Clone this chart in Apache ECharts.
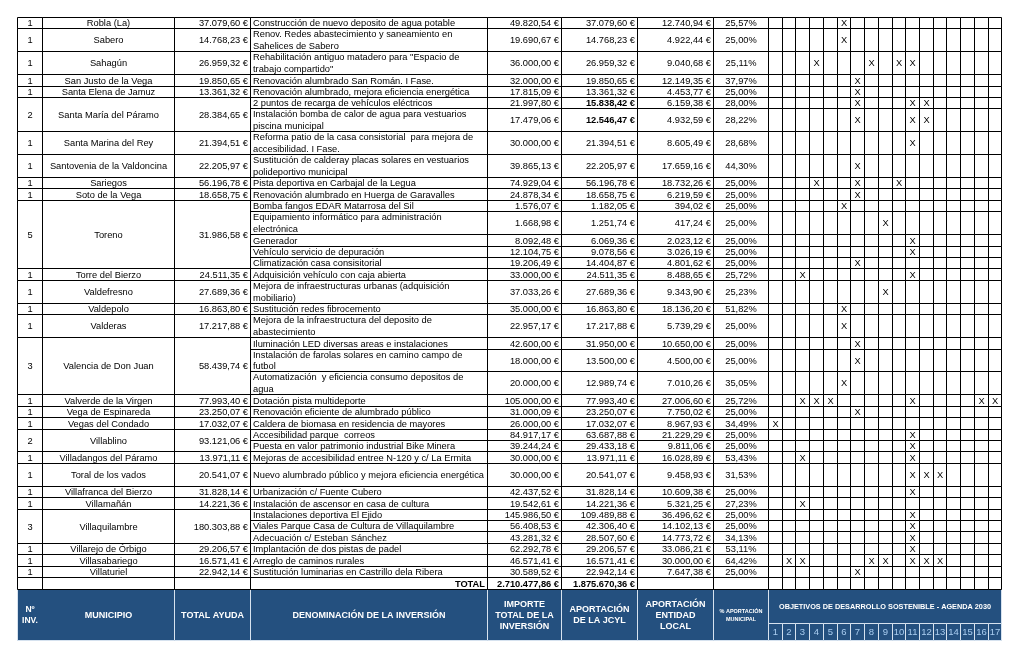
<!DOCTYPE html>
<html>
<head>
<meta charset="utf-8">
<script src="https://cdn.jsdelivr.net/npm/echarts@6/dist/echarts.min.js"></script>
<style>
  html, body { margin: 0; background: #fff; }
  #chart { width: 1020px; height: 655px; }
</style>
</head>
<body>
<div id="chart"></div>
<script>
// municipios
const muniNames = ['Robla (La)', 'Sabero', 'Sahagún', 'San Justo de la Vega', 'Santa Elena de Jamuz',
  'Santa María del Páramo', 'Santa Marina del Rey', 'Santovenia de la Valdoncina', 'Sariegos',
  'Soto de la Vega', 'Toreno', 'Torre del Bierzo', 'Valdefresno', 'Valdepolo', 'Valderas',
  'Valencia de Don Juan', 'Valverde de la Virgen', 'Vega de Espinareda', 'Vegas del Condado',
  'Villablino', 'Villadangos del Páramo', 'Toral de los vados', 'Villafranca del Bierzo',
  'Villamañán', 'Villaquilambre', 'Villarejo de Órbigo', 'Villasabariego', 'Villaturiel']
const muniAyuda = [37079.60, 14768.23, 26959.32, 19850.65, 13361.32, 28384.65, 21394.51, 22205.97,
  56196.78, 18658.75, 31986.58, 24511.35, 27689.36, 16863.80, 17217.88, 58439.74, 77993.40,
  23250.07, 17032.07, 93121.06, 13971.11, 20541.07, 31828.14, 14221.36, 180303.88, 29206.57,
  16571.41, 22942.14]
const muniInv = [1, 1, 1, 1, 1, 2, 1, 1, 1, 1, 5, 1, 1, 1, 1, 3, 1, 1, 1, 2, 1, 1, 1, 1, 3, 1, 1, 1]

// inversiones
const invNames = [
  'Construcción de nuevo deposito de agua potable',
  'Renov. Redes abastecimiento y saneamiento en\nSahelices de Sabero',
  'Rehabilitación antiguo matadero para "Espacio de\ntrabajo compartido"',
  'Renovación alumbrado San Román. I Fase.',
  'Renovación alumbrado, mejora eficiencia energética',
  '2 puntos de recarga de vehículos eléctricos',
  'Instalación bomba de calor de agua para vestuarios\npiscina municipal',
  'Reforma patio de la casa consistorial  para mejora de\naccesibilidad. I Fase.',
  'Sustitución de calderay placas solares en vestuarios\npolideportivo municipal',
  'Pista deportiva en Carbajal de la Legua',
  'Renovación alumbrado en Huerga de Garavalles',
  'Bomba fangos EDAR Matarrosa del Sil',
  'Equipamiento informático para administración\nelectrónica',
  'Generador',
  'Vehículo servicio de depuración',
  'Climatización casa consisitorial',
  'Adquisición vehículo con caja abierta',
  'Mejora de infraestructuras urbanas (adquisición\nmobiliario)',
  'Sustitución redes fibrocemento',
  'Mejora de la infraestructura del deposito de\nabastecimiento',
  'Iluminación LED diversas areas e instalaciones',
  'Instalación de farolas solares en camino campo de\nfutbol',
  'Automatización  y eficiencia consumo depositos de\nagua',
  'Dotación pista multideporte',
  'Renovación eficiente de alumbrado público',
  'Caldera de biomasa en residencia de mayores',
  'Accesibilidad parque  correos',
  'Puesta en valor patrimonio industrial Bike Minera',
  'Mejoras de accesibilidad entree N-120 y c/ La Ermita',
  'Nuevo alumbrado público y mejora eficiencia energética',
  'Urbanización c/ Fuente Cubero',
  'Instalación de ascensor en casa de cultura',
  'Instalaciones deportiva El Ejido',
  'Viales Parque Casa de Cultura de Villaquilambre',
  'Adecuación c/ Esteban Sánchez',
  'Implantación de dos pistas de padel',
  'Arreglo de caminos rurales',
  'Sustitución luminarias en Castrillo dela Ribera'
]
const invImporte = [49820.54, 19690.67, 36000.00, 32000.00, 17815.09, 21997.80, 17479.06, 30000.00,
  39865.13, 74929.04, 24878.34, 1576.07, 1668.98, 8092.48, 12104.75, 19206.49, 33000.00, 37033.26,
  35000.00, 22957.17, 42600.00, 18000.00, 20000.00, 105000.00, 31000.09, 26000.00, 84917.17,
  39244.24, 30000.00, 30000.00, 42437.52, 19542.61, 145986.50, 56408.53, 43281.32, 62292.78,
  46571.41, 30589.52]
const invJcyl = [37079.60, 14768.23, 26959.32, 19850.65, 13361.32, 15838.42, 12546.47, 21394.51,
  22205.97, 56196.78, 18658.75, 1182.05, 1251.74, 6069.36, 9078.56, 14404.87, 24511.35, 27689.36,
  16863.80, 17217.88, 31950.00, 13500.00, 12989.74, 77993.40, 23250.07, 17032.07, 63687.88,
  29433.18, 13971.11, 20541.07, 31828.14, 14221.36, 109489.88, 42306.40, 28507.60, 29206.57,
  16571.41, 22942.14]
const invLocal = [12740.94, 4922.44, 9040.68, 12149.35, 4453.77, 6159.38, 4932.59, 8605.49,
  17659.16, 18732.26, 6219.59, 394.02, 417.24, 2023.12, 3026.19, 4801.62, 8488.65, 9343.90,
  18136.20, 5739.29, 10650.00, 4500.00, 7010.26, 27006.60, 7750.02, 8967.93, 21229.29,
  9811.06, 16028.89, 9458.93, 10609.38, 5321.25, 36496.62, 14102.13, 14773.72, 33086.21,
  30000.00, 7647.38]
const invPct = [25.57, 25.00, 25.11, 37.97, 25.00, 28.00, 28.22, 28.68, 44.30, 25.00, 25.00,
  25.00, 25.00, 25.00, 25.00, 25.00, 25.72, 25.23, 51.82, 25.00, 25.00, 25.00, 35.05, 25.72,
  25.00, 34.49, 25.00, 25.00, 53.43, 31.53, 25.00, 27.23, 25.00, 25.00, 34.13, 53.11, 64.42, 25.00]
const invOds = [[6], [6], [4, 8, 10, 11], [7], [7], [7, 11, 12], [7, 11, 12], [11], [7], [4, 7, 10],
  [7], [6], [9], [11], [11], [7], [3, 11], [9], [6], [6], [7], [7], [6], [3, 4, 5, 11, 16, 17],
  [7], [1], [11], [11], [3, 11], [11, 12, 13], [11], [3], [11], [11], [11], [11],
  [2, 3, 8, 9, 11, 12, 13], [7]]
const totalImporte = 2710477.86
const totalJcyl = 1875670.36

// cabecera
const headLabels = ['Nº\nINV.', 'MUNICIPIO', 'TOTAL AYUDA', 'DENOMINACIÓN DE LA INVERSIÓN',
  'IMPORTE\nTOTAL DE LA\nINVERSIÓN', 'APORTACIÓN\nDE LA JCYL', 'APORTACIÓN\nENTIDAD\nLOCAL',
  '% APORTACIÓN\nMUNICIPAL']
const odsTitle = 'OBJETIVOS DE DESARROLLO SOSTENIBLE - AGENDA 2030'
const odsLabels = ['1', '2', '3', '4', '5', '6', '7', '8', '9', '10', '11', '12', '13', '14', '15', '16', '17']

// layout (pixel columns, row heights in line units)
const colX = [17, 42, 174, 250, 487, 561, 637, 713, 768]
const odsW = 13.73
const rowUnits = [1, 2, 2, 1, 1, 1, 2, 2, 2, 1, 1, 1, 2, 1, 1, 1, 1, 2, 1, 2, 1, 2, 2, 1, 1, 1, 1, 1,
  1, 2, 1, 1, 1, 1, 1, 1, 1, 1]
const boldJcyl = [5, 6]
const HEAD = '#24507f'
const HEAD_LINE = '#d6e2ef'
const FONT = '"Liberation Sans", Arial, sans-serif'
const BODY_FS = 9.3

function eur(v) {
  const [i, d] = v.toFixed(2).split('.')
  return i.replace(/\B(?=(\d{3})+(?!\d))/g, '.') + ',' + d + ' €'
}
function pct(v) {
  return v.toFixed(2).replace('.', ',') + '%'
}
function odsX(s) {
  return colX[8] + s * odsW
}

const cells = []
function cell(x0, x1, y0, y1, text, o) {
  cells.push(Object.assign({ x0, x1, y0, y1, text, align: 'center', fs: BODY_FS, color: '#000', stroke: '#000', fill: null }, o))
}

// header (below the table)
const H0 = 50, H1 = 53, H2 = 54.5
const hs = { fill: HEAD, stroke: HEAD_LINE, color: '#fff', bold: true, fs: 9, lh: 11 }
cell(colX[0], colX[2], H0, H2, '', hs)
cell(colX[0], colX[1], H0, H2, headLabels[0], Object.assign({}, hs, { fill: null, stroke: null, fs: 8.5 }))
cell(colX[1], colX[2], H0, H2, headLabels[1], Object.assign({}, hs, { fill: null, stroke: null }))
for (let c = 2; c < 8; c++) {
  cell(colX[c], colX[c + 1], H0, H2, headLabels[c], c === 7 ? Object.assign({}, hs, { fs: 5.5, lh: 8 }) : hs)
}
cell(colX[8], odsX(17), H0, H1, odsTitle, Object.assign({}, hs, { fs: 7.3 }))
odsLabels.forEach((t, s) => {
  cell(odsX(s), odsX(s + 1), H1, H2, t, Object.assign({}, hs, { bold: false, color: '#a9cdf0', fs: 9.5 }))
})

// body
let y = 0, k = 0
muniNames.forEach((name, m) => {
  const n = muniInv[m]
  let h = 0
  for (let j = 0; j < n; j++) h += rowUnits[k + j]
  cell(colX[0], colX[1], y, y + h, String(n))
  cell(colX[1], colX[2], y, y + h, name)
  cell(colX[2], colX[3], y, y + h, eur(muniAyuda[m]), { align: 'right' })
  let yy = y
  for (let j = 0; j < n; j++, k++) {
    const r = rowUnits[k]
    cell(colX[3], colX[4], yy, yy + r, invNames[k], { align: 'left' })
    cell(colX[4], colX[5], yy, yy + r, eur(invImporte[k]), { align: 'right' })
    cell(colX[5], colX[6], yy, yy + r, eur(invJcyl[k]), { align: 'right', bold: boldJcyl.includes(k) })
    cell(colX[6], colX[7], yy, yy + r, eur(invLocal[k]), { align: 'right' })
    cell(colX[7], colX[8], yy, yy + r, pct(invPct[k]))
    for (let s = 0; s < 17; s++) {
      cell(odsX(s), odsX(s + 1), yy, yy + r, invOds[k].includes(s + 1) ? 'X' : '')
    }
    yy += r
  }
  y += h
})

// total row
cell(colX[0], colX[1], y, y + 1, '')
cell(colX[1], colX[2], y, y + 1, '')
cell(colX[2], colX[3], y, y + 1, '')
cell(colX[3], colX[4], y, y + 1, 'TOTAL', { align: 'right', bold: true })
cell(colX[4], colX[5], y, y + 1, eur(totalImporte), { align: 'right', bold: true })
cell(colX[5], colX[6], y, y + 1, eur(totalJcyl), { align: 'right', bold: true })
cell(colX[6], colX[7], y, y + 1, '')
cell(colX[7], colX[8], y, y + 1, '')
for (let s = 0; s < 17; s++) cell(odsX(s), odsX(s + 1), y, y + 1, '')

const chart = echarts.init(document.getElementById('chart'))

function renderCell(params, api) {
  const c = cells[params.dataIndex]
  const a = api.coord([c.x0, c.y0])
  const b = api.coord([c.x1, c.y1])
  const unit = api.size([0, 1])[1]
  const x0 = Math.round(a[0]) + 0.5, x1 = Math.round(b[0]) + 0.5
  const y0 = Math.round(a[1]) + 0.5, y1 = Math.round(b[1]) + 0.5
  const children = []
  if (c.fill || c.stroke) {
    children.push({
      type: 'rect',
      shape: { x: x0, y: y0, width: x1 - x0, height: y1 - y0 },
      style: { fill: c.fill || 'transparent', stroke: c.stroke || 'transparent', lineWidth: 1 }
    })
  }
  if (c.text) {
    let tx = (x0 + x1) / 2
    if (c.align === 'left') tx = x0 + 2.5
    if (c.align === 'right') tx = x1 - 2.5
    children.push({
      type: 'text',
      style: {
        text: c.text,
        x: tx,
        y: (y0 + y1) / 2 + 0.5,
        align: c.align,
        verticalAlign: 'middle',
        fill: c.color,
        fontSize: c.fs,
        fontFamily: FONT,
        fontWeight: c.bold ? 'bold' : 'normal',
        lineHeight: c.lh || unit
      }
    })
  }
  return { type: 'group', children }
}

chart.setOption({
  animation: false,
  grid: { left: 0, right: 0, top: 17, bottom: 15 },
  xAxis: { type: 'value', min: 0, max: 1020, show: false },
  yAxis: { type: 'value', min: 0, max: 54.5, inverse: true, show: false },
  series: [{
    type: 'custom',
    silent: true,
    clip: false,
    renderItem: renderCell,
    encode: { x: [0, 2], y: [1, 3] },
    data: cells.map(c => [c.x0, c.y0, c.x1, c.y1])
  }]
})
</script>
</body>
</html>
